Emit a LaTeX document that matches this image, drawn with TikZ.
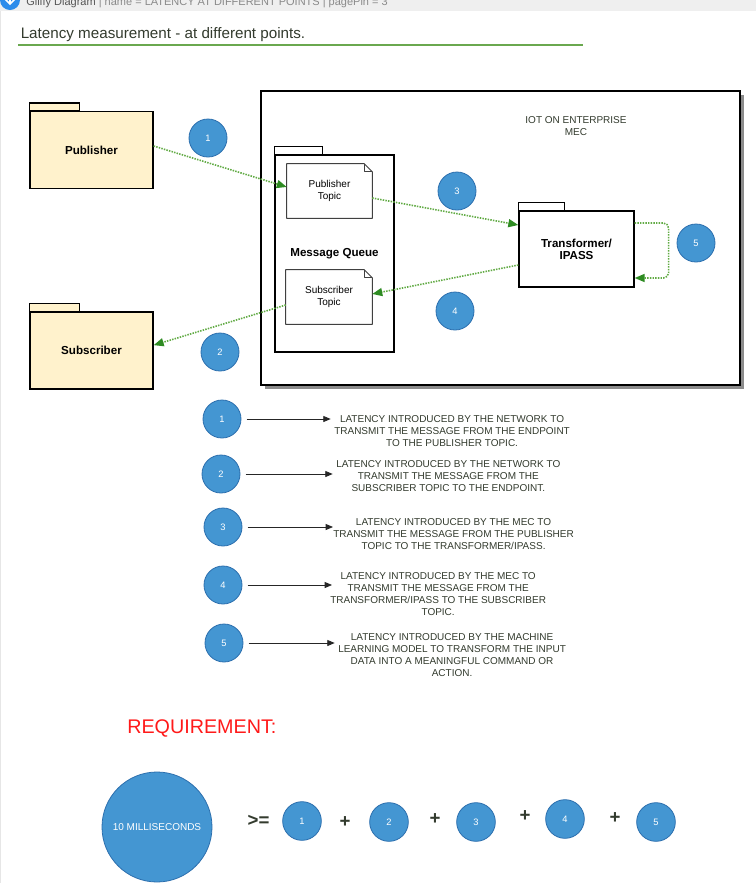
\documentclass[tikz,border=0pt]{standalone}
\usepackage{fontspec}
\setmainfont{Liberation Sans}
\usetikzlibrary{arrows.meta,calc}
\definecolor{pkgfill}{HTML}{FFF2CC}
\definecolor{cfill}{HTML}{4496D2}
\definecolor{cdraw}{HTML}{2C6FAE}
\definecolor{flowgreen}{HTML}{62AB45}
\definecolor{headgreen}{HTML}{2E8B22}
\definecolor{txt}{HTML}{333B2E}
\definecolor{titleline}{HTML}{6AA84F}
\definecolor{reqred}{HTML}{FF1A1A}
\definecolor{hdr}{HTML}{EFEFEF}
\definecolor{hdrtext}{HTML}{8A8A8A}
\definecolor{hdrdark}{HTML}{555555}
\definecolor{gliffy}{HTML}{2D8CEB}
\definecolor{shadowgray}{HTML}{8C8C8C}
\definecolor{leftgray}{HTML}{E6E6E6}
\tikzset{
  pkgbox/.style={draw=black, line width=1pt, fill=pkgfill, inner sep=0pt, align=center,
    font=\bfseries\fontsize{8.7}{9}\selectfont},
  pkgwhite/.style={pkgbox, fill=white},
  pkgtab/.style={draw=black, line width=1pt},
  notebox/.style={fill=white, inner sep=0pt, align=center, text=black,
    font=\fontsize{7.5}{9}\selectfont},
  noteline/.style={draw=black!75, line width=0.75pt, line join=round},
  numc/.style={circle, fill=cfill, draw=cdraw, line width=0.6pt, minimum size=28.5pt,
    inner sep=0pt, text=white, font=\fontsize{7}{8}\selectfont},
  flow/.style={draw=flowgreen, line width=1.2pt, dash pattern=on 1.1pt off 0.9pt,
    -{Triangle[length=7.5pt,width=6pt,fill=headgreen,color=headgreen]}},
  legarrow/.style={draw=black!85, line width=0.6pt, -{Triangle[length=5.5pt,width=4.5pt]}},
  legtext/.style={anchor=north west, inner sep=0pt, align=center, text=txt,
    font=\fontsize{7.5}{9}\selectfont},
  opsym/.style={inner sep=0pt, text=txt, font=\bfseries\fontsize{14}{16}\selectfont}
}
\begin{document}
\begin{tikzpicture}[x=0.75pt,y=-0.75pt]
\useasboundingbox (0,0) rectangle (756,883);
\fill[white] (0,0) rectangle (756,883);
% header bar
\fill[hdr] (0,0) rectangle (756,10.5);
\begin{scope}
\clip (0,0) rectangle (756,10.5);
\fill[gliffy] (10,0) circle[radius=10];
\draw[white, line width=1.2pt] (10,-6) -- (10,4);
\draw[white, line width=1.2pt] (5.5,-0.5) -- (10,4) -- (14.5,-0.5);
\node[anchor=base west, inner sep=0pt, text=hdrtext, font=\fontsize{8.25}{10}\selectfont] (hdrlabel) at (26,5)
  {\textcolor{hdrdark}{Gliffy Diagram} | name = LATENCY AT DIFFERENT POINTS | pagePin = 3};
\end{scope}
\fill[leftgray] (0,10.5) rectangle (1.5,883);
% title
\node[anchor=base west, inner sep=0pt, text=txt, font=\fontsize{11.4}{13}\selectfont] (title) at (20.5,38)
  {Latency measurement - at different points.};
\draw[titleline, line width=1.5pt] (18,45) -- (583,45);
% external packages
\node[pkgbox, minimum width=92.25pt, minimum height=57.75pt] (pub) at (91.5,150) {Publisher};
\draw[pkgtab, fill=pkgfill] (pub.north west) rectangle ++(50,-8);
\node[pkgbox, minimum width=92.25pt, minimum height=57.75pt] (sub) at (91.5,350.5) {Subscriber};
\draw[pkgtab, fill=pkgfill] (sub.north west) rectangle ++(50,-8);
% MEC box
\fill[shadowgray] (265,95) rectangle (743.5,388.5);
\node[draw=black, line width=1.1pt, fill=white, minimum width=359.25pt, minimum height=220.5pt, inner sep=0pt] (mec) at (500.5,238) {};
\node[align=center, text=txt, inner sep=0pt, font=\fontsize{7.5}{9}\selectfont] (meclabel) at (576,126) {IOT ON ENTERPRISE\\MEC};
% message queue package
\node[pkgwhite, minimum width=89.25pt, minimum height=147.75pt] (mq) at (334.5,253.5) {Message Queue};
\draw[pkgtab, fill=white] (mq.north west) rectangle ++(48,-8);
% topics
\node[notebox, minimum width=63.75pt, minimum height=40.5pt] (ptopic) at (329.5,191) {Publisher\\Topic};
\draw[noteline] (ptopic.north west) -- ([xshift=-6pt]ptopic.north east) -- ([yshift=-6pt]ptopic.north east)
  -- (ptopic.south east) -- (ptopic.south west) -- cycle;
\draw[noteline] ([xshift=-6pt]ptopic.north east) -- ([xshift=-6pt,yshift=-6pt]ptopic.north east) -- ([yshift=-6pt]ptopic.north east);
\node[notebox, minimum width=64.5pt, minimum height=40.5pt] (stopic) at (329,297) {Subscriber\\Topic};
\draw[noteline] (stopic.north west) -- ([xshift=-6pt]stopic.north east) -- ([yshift=-6pt]stopic.north east)
  -- (stopic.south east) -- (stopic.south west) -- cycle;
\draw[noteline] ([xshift=-6pt]stopic.north east) -- ([xshift=-6pt,yshift=-6pt]stopic.north east) -- ([yshift=-6pt]stopic.north east);
% transformer
\node[pkgwhite, minimum width=86.25pt, minimum height=57pt] (trans) at (576.5,249) {Transformer/\\IPASS};
\draw[pkgtab, fill=white] (trans.north west) rectangle ++(46,-8);
% number circles in diagram
\node[numc] (c1) at (208,138) {1};
\node[numc] (c2) at (220,352) {2};
\node[numc] (c3) at (457,191) {3};
\node[numc] (c4) at (455,311) {4};
\node[numc] (c5) at (696,243) {5};
% flows
\draw[flow] ([yshift=3pt]pub.east) -- ([yshift=3pt]ptopic.west);
\draw[flow] ([yshift=-5.25pt]ptopic.east) -- ([yshift=18pt]trans.west);
\draw[flow] ([yshift=-12pt]trans.west) -- ([yshift=2.25pt]stopic.east);
\draw[flow] ([yshift=-6pt]stopic.west) -- ([yshift=4pt]sub.east);
\draw[flow, rounded corners=4pt] ([yshift=19.5pt]trans.east) -- ++(34,0) |- ([yshift=-21.75pt]trans.east);
% legend
\node[numc] (L1) at (222,419) {1};
\node[numc] (L2) at (221,474) {2};
\node[numc] (L3) at (223,527) {3};
\node[numc] (L4) at (223,585) {4};
\node[numc] (L5) at (224,643) {5};
\node[legtext] (T1) at (334,415.4) {LATENCY INTRODUCED BY THE NETWORK TO\\TRANSMIT THE MESSAGE FROM THE ENDPOINT\\TO THE PUBLISHER TOPIC.};
\node[legtext] (T2) at (336,460.4) {LATENCY INTRODUCED BY THE NETWORK TO\\TRANSMIT THE MESSAGE FROM THE\\SUBSCRIBER TOPIC TO THE ENDPOINT.};
\node[legtext] (T3) at (333,518.4) {LATENCY INTRODUCED BY THE MEC TO\\TRANSMIT THE MESSAGE FROM THE PUBLISHER\\TOPIC TO THE TRANSFORMER/IPASS.};
\node[legtext] (T4) at (330,572.4) {LATENCY INTRODUCED BY THE MEC TO\\TRANSMIT THE MESSAGE FROM THE\\TRANSFORMER/IPASS TO THE SUBSCRIBER\\TOPIC.};
\node[legtext] (T5) at (338,633.4) {LATENCY INTRODUCED BY THE MACHINE\\LEARNING MODEL TO TRANSFORM THE INPUT\\DATA INTO A MEANINGFUL COMMAND OR\\ACTION.};
\draw[legarrow, shorten <=4pt, shorten >=2.5pt] (L1.east) -- (L1.east -| T1.west);
\draw[legarrow, shorten <=4pt, shorten >=2.5pt] (L2.east) -- (L2.east -| T2.west);
\draw[legarrow, shorten <=4pt, shorten >=0pt] (L3.east) -- (L3.east -| T3.west);
\draw[legarrow, shorten <=4pt, shorten >=-1.5pt] (L4.east) -- (L4.east -| T4.west);
\draw[legarrow, shorten <=4pt, shorten >=2.5pt] (L5.east) -- (L5.east -| T5.west);
% requirement
\node[anchor=base west, inner sep=0pt, text=reqred, font=\fontsize{14.8}{17}\selectfont] (req) at (127,733) {REQUIREMENT:};
\node[numc, minimum size=82.5pt, font=\fontsize{7.5}{9}\selectfont] (ms) at (157,827) {10 MILLISECONDS};
\node[opsym] (ge) at (258.5,821) {>=};
\node[numc, minimum size=29pt] (B1) at (302,821) {1};
\node[opsym] (o1) at (345,822) {+};
\node[numc, minimum size=29pt] (B2) at (389,822) {2};
\node[opsym] (o2) at (435,819) {+};
\node[numc, minimum size=29pt] (B3) at (476,822) {3};
\node[opsym] (o3) at (525,816) {+};
\node[numc, minimum size=29pt] (B4) at (565,819) {4};
\node[opsym] (o4) at (615,818) {+};
\node[numc, minimum size=29pt] (B5) at (656,822) {5};
\end{tikzpicture}
\end{document}
